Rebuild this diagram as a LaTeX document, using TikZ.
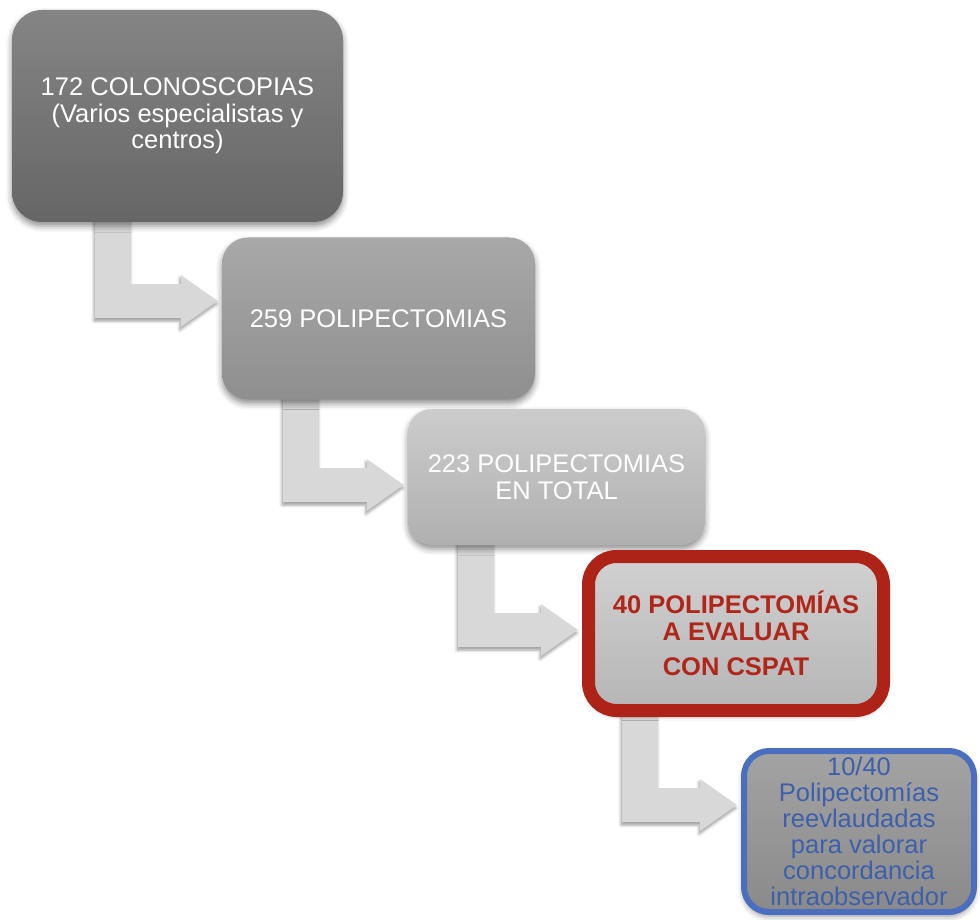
\documentclass[tikz,border=0pt]{standalone}
\usepackage{fontspec}
\setmainfont{Liberation Sans}
\usetikzlibrary{calc,shadows.blur,backgrounds}
\definecolor{arrowgray}{HTML}{D8D8D8}
\definecolor{redborder}{HTML}{AE2318}
\definecolor{redtext}{HTML}{B0261A}
\definecolor{blueborder}{HTML}{4B6EBF}
\definecolor{bluetext}{HTML}{3E5FAC}
\tikzset{
  box/.style={rounded corners=28pt, align=center, inner sep=0pt,
    font=\fontsize{25.5}{26.5}\selectfont, text=white,
    blur shadow={shadow xshift=0pt, shadow yshift=-4pt, shadow blur radius=6pt, shadow opacity=45}},
  bentarrow/.style={fill=arrowgray,
    blur shadow={shadow xshift=-1pt, shadow yshift=-3pt, shadow blur radius=3pt, shadow opacity=40}}
}
% #1 source node, #2 target node, #3 bar left x, #4 centre y of horizontal bar
\newcommand{\bentarr}[4]{%
  \fill[bentarrow] (#3, 0 |- #1.south) ++(0,-12) -- ++(36,0)
    -- (#3+36, #4-17) -- ($(#2.west |- 0,#4)+(-41,-17)$)
    -- ($(#2.west |- 0,#4)+(-41,-26)$) -- ($(#2.west |- 0,#4)+(-4,0)$)
    -- ($(#2.west |- 0,#4)+(-41,26)$) -- ($(#2.west |- 0,#4)+(-41,17)$)
    -- (#3, #4+17) -- cycle;}
\begin{document}
\begin{tikzpicture}[x=1pt,y=-1pt]
\useasboundingbox (0,0) rectangle (980,920);
% boxes
\node[box, minimum width=331pt, minimum height=212pt, rounded corners=30pt,
  top color=black!48, bottom color=black!60] (b1) at (177.5,116)
  {172 COLONOSCOPIAS\\(Varios especialistas y\\centros)};
\node[box, minimum width=313pt, minimum height=162pt, rounded corners=26pt,
  top color=black!34, bottom color=black!44] (b2) at (378.5,318.5)
  {259 POLIPECTOMIAS};
\node[box, minimum width=297pt, minimum height=136pt, rounded corners=24pt,
  top color=black!20, bottom color=black!31] (b3) at (556.5,477)
  {223 POLIPECTOMIAS\\EN TOTAL};
\node[box, minimum width=295pt, minimum height=154pt, rounded corners=28pt,
  draw=redborder, line width=13pt, text=redtext,
  font=\fontsize{25.5}{27}\selectfont\bfseries,
  top color=black!18, bottom color=black!29] (b4) at (736,633.5)
  {40 POLIPECTOMÍAS\\A EVALUAR\\[8pt]CON CSPAT};
\node[box, minimum width=230pt, minimum height=161pt, rounded corners=25pt,
  draw=blueborder, line width=6pt, text=bluetext,
  font=\fontsize{25.5}{26}\selectfont,
  top color=black!36, bottom color=black!46] (b5) at (859,831.5)
  {10/40\\Polipectomías\\reevlaudadas\\para valorar\\concordancia\\intraobservador};
% arrows, behind the boxes
\begin{scope}[on background layer]
\bentarr{b1}{b2}{95}{301}
\bentarr{b2}{b3}{283}{485}
\bentarr{b3}{b4}{458}{630}
\bentarr{b4}{b5}{622}{805}
\end{scope}
\end{tikzpicture}
\end{document}
